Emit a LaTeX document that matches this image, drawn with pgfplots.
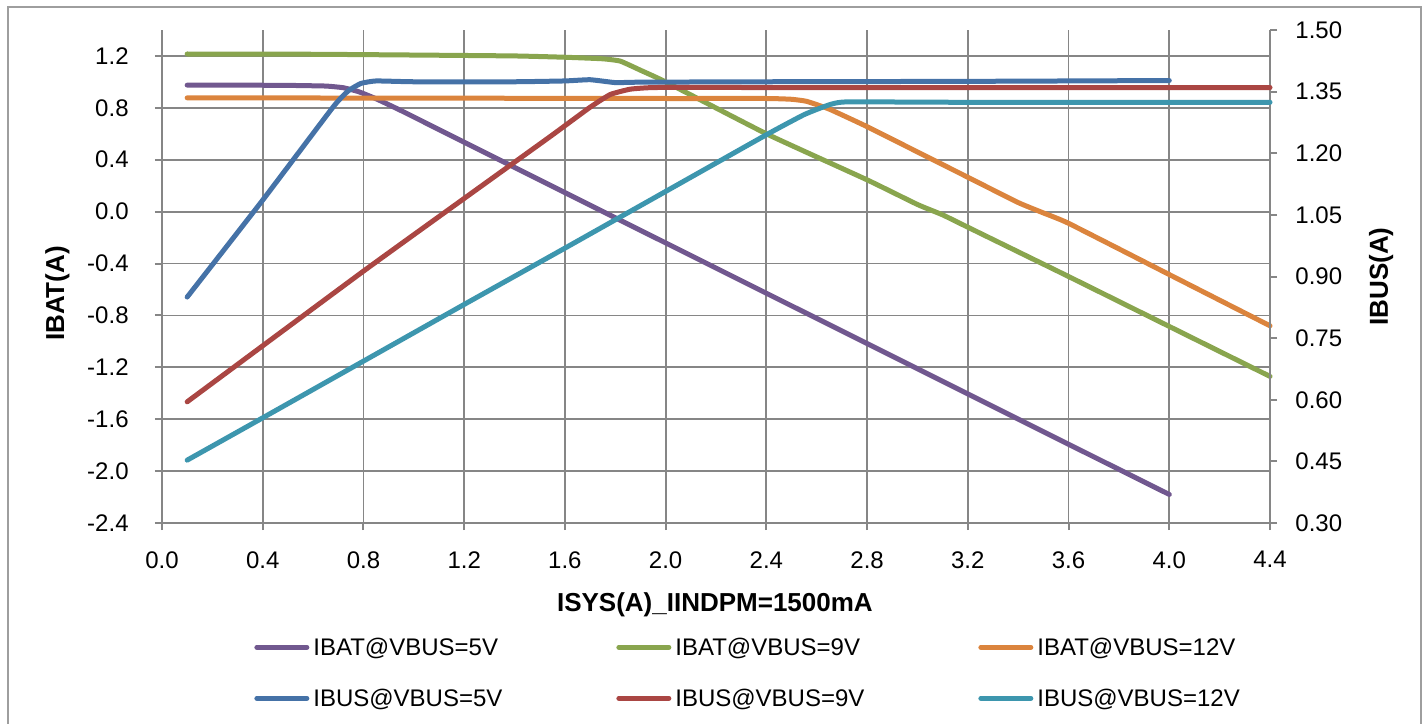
\documentclass[border=0pt]{standalone}
\usepackage{pgfplots}
\pgfplotsset{compat=1.18}
\usepackage{fontspec}
\setmainfont{Liberation Sans}

\definecolor{cpurple}{HTML}{71588F}
\definecolor{cgreen}{HTML}{89A54E}
\definecolor{corange}{HTML}{DB843D}
\definecolor{cblue}{HTML}{4572A7}
\definecolor{cred}{HTML}{AA4643}
\definecolor{cteal}{HTML}{3D96AE}
\definecolor{axgray}{HTML}{868686}

\pgfplotsset{
  common/.style={
    at={(81pt,100pt)}, anchor=south west,
    scale only axis, width=554pt, height=246.5pt,
    xmin=0, xmax=4.4,
    /pgf/number format/assume math mode=true,
    tick label style={font=\fontsize{12}{14}\selectfont},
    tick align=outside,
    major tick length=3.5pt,
    tick style={draw=axgray, line width=1pt},
    axis line style={draw=axgray, line width=1pt, -},
    clip=false,
  },
  ser/.style={line width=2.5pt, line cap=round, line join=round, smooth, tension=0.25, #1},
}

\begin{document}
\begin{tikzpicture}
\useasboundingbox (0pt,0pt) rectangle (712pt,361.5pt);
\draw[axgray!80, line width=1pt] (4pt,-5pt) rectangle (710.5pt,358pt);

\begin{axis}[common,
  ymin=-2.4, ymax=1.4,
  axis x line*=bottom, axis y line*=left,
  xtick={0,0.4,0.8,1.2,1.6,2.0,2.4,2.8,3.2,3.6,4.0,4.4},
  ytick={-2.4,-2.0,-1.6,-1.2,-0.8,-0.4,0,0.4,0.8,1.2},
  xticklabel style={/pgf/number format/fixed, /pgf/number format/fixed zerofill, /pgf/number format/precision=1, inner ysep=0pt, yshift=-10.5pt},
  yticklabel style={/pgf/number format/fixed, /pgf/number format/fixed zerofill, /pgf/number format/precision=1, inner xsep=0pt, xshift=-13pt},
  grid=major,
  major grid style={draw=axgray, line width=0.9pt},
  every axis x label/.style={at={(axis description cs:0.499,-0.1663)}, anchor=center, font=\bfseries\fontsize{13}{15}\selectfont},
  every axis y label/.style={at={(axis description cs:-0.0943,0.4655)}, rotate=90, anchor=center, font=\bfseries\fontsize{13}{15}\selectfont},
  xlabel={ISYS(A)\_IINDPM=1500mA},
  ylabel={IBAT(A)},
]
% IBAT@VBUS=5V
\addplot[ser=cpurple] coordinates {
(0.1,0.975) (0.3,0.975) (0.5,0.973) (0.65,0.968) (0.72,0.955) (0.78,0.925)
(0.85,0.87) (0.95,0.778) (1.2,0.535) (1.6,0.147) (2.0,-0.241) (2.4,-0.629)
(2.8,-1.017) (3.2,-1.405) (3.6,-1.793) (4.0,-2.18)};
% IBAT@VBUS=9V
\addplot[ser=cgreen] coordinates {
(0.1,1.215) (0.6,1.213) (1.0,1.207) (1.4,1.200) (1.6,1.190) (1.75,1.178)
(1.82,1.16) (1.9,1.09) (2.0,1.0) (2.4,0.60) (2.8,0.245) (3.0,0.055)
(3.1,-0.025) (3.2,-0.12) (3.6,-0.50) (4.0,-0.885) (4.4,-1.27)};
% IBAT@VBUS=12V
\addplot[ser=corange] coordinates {
(0.1,0.877) (1.0,0.875) (2.0,0.872) (2.4,0.872) (2.5,0.866) (2.56,0.85)
(2.65,0.79) (2.8,0.655) (3.0,0.46) (3.2,0.265) (3.4,0.07) (3.5,-0.01)
(3.6,-0.09) (4.0,-0.485) (4.4,-0.88)};
\end{axis}

\begin{axis}[common,
  ymin=0.3, ymax=1.5,
  axis x line=none, axis y line*=right,
  ytick={0.3,0.45,0.6,0.75,0.9,1.05,1.2,1.35,1.5},
  yticklabel style={/pgf/number format/fixed, /pgf/number format/fixed zerofill, /pgf/number format/precision=2, inner xsep=0pt, xshift=9pt},
  every axis y label/.style={at={(axis description cs:1.1002,0.5)}, rotate=90, anchor=center, font=\bfseries\fontsize{13}{15}\selectfont},
  ylabel={IBUS(A)},
  legend columns=3,
  legend image code/.code={\draw[#1, line cap=round] (0pt,1.3pt) -- (25pt,1.3pt);},
  legend style={
    at={(axis description cs:0.0830,-0.2323)}, anchor=north west,
    draw=none, fill=none, inner sep=0pt,
    row sep=13.5pt,
    /tikz/every odd column/.append style={column sep=2pt},
    /tikz/every even column/.append style={column sep=0pt},
    cells={anchor=west},
    nodes={inner sep=0pt, text width=151.5pt, align=left, text height=9pt, text depth=3pt,
           font=\fontsize{12}{14}\selectfont},
  },
]
\addlegendimage{ser=cpurple}
\addlegendentry{IBAT@VBUS=5V}
\addlegendimage{ser=cgreen}
\addlegendentry{IBAT@VBUS=9V}
\addlegendimage{ser=corange}
\addlegendentry{IBAT@VBUS=12V}
% IBUS@VBUS=5V
\addplot[ser=cblue] coordinates {
(0.1,0.85) (0.4,1.086) (0.68,1.313) (0.74,1.352) (0.79,1.370) (0.85,1.376)
(1.0,1.374) (1.4,1.374) (1.6,1.376) (1.7,1.379) (1.8,1.372) (1.9,1.373)
(2.4,1.374) (3.2,1.375) (4.0,1.377)};
\addlegendentry{IBUS@VBUS=5V}
% IBUS@VBUS=9V
\addplot[ser=cred] coordinates {
(0.1,0.595) (0.8,0.913) (1.2,1.090) (1.54,1.240) (1.7,1.312) (1.78,1.343)
(1.86,1.356) (1.96,1.360) (2.4,1.360) (3.2,1.360) (4.4,1.360)};
\addlegendentry{IBUS@VBUS=9V}
% IBUS@VBUS=12V
\addplot[ser=cteal] coordinates {
(0.1,0.453) (0.4,0.556) (0.8,0.694) (1.2,0.832) (1.6,0.969) (2.0,1.107)
(2.4,1.245) (2.55,1.294) (2.65,1.318) (2.72,1.325) (3.2,1.324) (4.4,1.324)};
\addlegendentry{IBUS@VBUS=12V}
\end{axis}
\end{tikzpicture}
\end{document}
